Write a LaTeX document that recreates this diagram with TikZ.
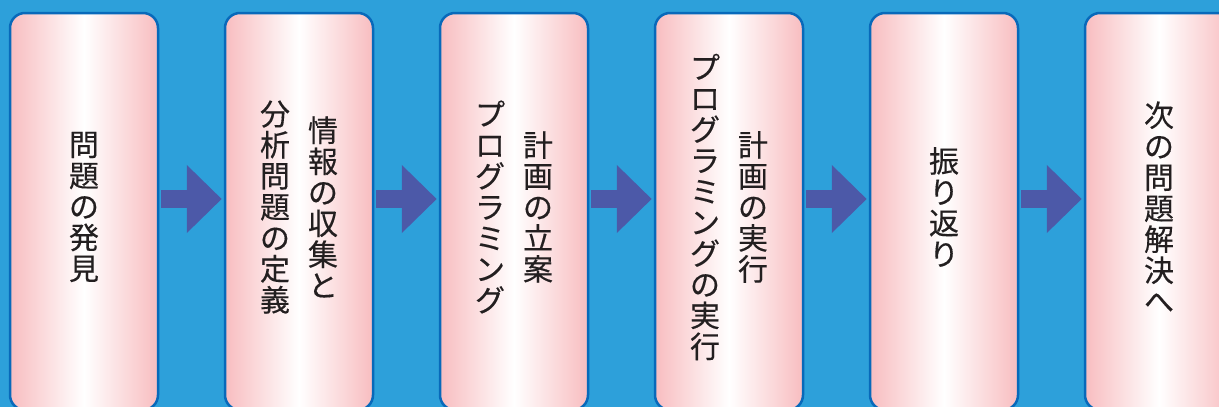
\documentclass[tikz,border=0pt]{standalone}
\usepackage{fontspec}
\newfontfamily\jpfont[FakeBold=0.3]{Noto Sans CJK JP}
\usetikzlibrary{arrows.meta}

\definecolor{bgblue}{HTML}{2DA0DA}
\definecolor{lineblue}{HTML}{0869BA}
\definecolor{arrowblue}{HTML}{4C59A8}
\definecolor{boxpink}{HTML}{F8BDC0}
\definecolor{textgray}{HTML}{231F20}

\tikzset{
  stepbox/.style={rounded corners=15pt, draw=lineblue, line width=2.5pt,
    left color=boxpink, right color=boxpink, middle color=white,
    minimum width=148pt, minimum height=397pt, inner sep=0pt},
  tate/.style={align=center, text=textgray, inner sep=0pt,
    font=\jpfont\fontsize{30}{31}\selectfont},
  flow/.style={arrowblue, line width=18pt, -{Triangle[width=66pt,length=35pt]}}
}

\begin{document}
\begin{tikzpicture}[x=1pt,y=-1pt]
    \useasboundingbox (0,0) rectangle (1219,407);
    \fill[bgblue] (0,0) rectangle (1219,407);
    \clip (0,0) rectangle (1219,407);

    % Boxes
    \node[stepbox] (b1) at (84,211.5) {};
    \node[stepbox] (b2) at (299,211.5) {};
    \node[stepbox] (b3) at (514,211.5) {};
    \node[stepbox] (b4) at (729,211.5) {};
    \node[stepbox] (b5) at (944,211.5) {};
    \node[stepbox] (b6) at (1159,211.5) {};

    % Arrows
    \draw[flow] ([xshift=2pt,yshift=12.5pt]b1.east) -- ([xshift=-2pt,yshift=12.5pt]b2.west);
    \draw[flow] ([xshift=2pt,yshift=12.5pt]b2.east) -- ([xshift=-2pt,yshift=12.5pt]b3.west);
    \draw[flow] ([xshift=2pt,yshift=12.5pt]b3.east) -- ([xshift=-2pt,yshift=12.5pt]b4.west);
    \draw[flow] ([xshift=2pt,yshift=12.5pt]b4.east) -- ([xshift=-2pt,yshift=12.5pt]b5.west);
    \draw[flow] ([xshift=2pt,yshift=12.5pt]b5.east) -- ([xshift=-2pt,yshift=12.5pt]b6.west);

    % Labels (vertical, right column first)
    \node[tate] (t1) at (84,207) {問\\題\\の\\発\\見};

    \node[tate] (t2a) at (323,207) {情\\報\\の\\収\\集\\と};
    \node[tate] (t2b) at (275,207) {分\\析\\問\\題\\の\\定\\義};

    \node[tate] (t3a) at (538,207) {計\\画\\の\\立\\案};
    \node[tate] (t3b) at (490,207) {プ\\ロ\\グ\\ラ\\ミ\\ン\\グ};

    \node[tate] (t4a) at (753,207) {計\\画\\の\\実\\行};
    \node[tate] (t4b) at (705,207) {プ\\ロ\\グ\\ラ\\ミ\\ン\\グ\\の\\実\\行};

    \node[tate] (t5) at (944,207) {振\\り\\返\\り};

    \node[tate] (t6) at (1159,207) {次\\の\\問\\題\\解\\決\\へ};
\end{tikzpicture}
\end{document}
